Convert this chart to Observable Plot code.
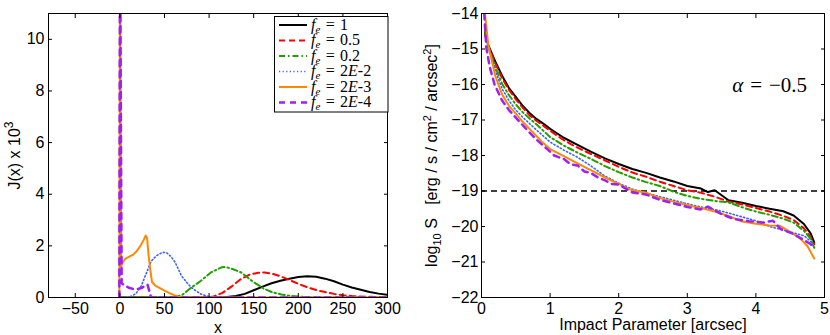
<!DOCTYPE html>
<html>
<head>
<meta charset="utf-8">
<script src="https://cdn.jsdelivr.net/npm/d3@7"></script>
<script src="https://cdn.jsdelivr.net/npm/@observablehq/plot@0.6"></script>
<style>
  html, body { margin: 0; padding: 0; background: #fff; }
  #wrap { position: relative; width: 830px; height: 335px; display: flex; font-family: "Liberation Sans", Arial, sans-serif; }
  #wrap svg { overflow: visible; }
  #legend { position: absolute; left: 0; top: 0; pointer-events: none; }
</style>
</head>
<body>
<div id="wrap"></div>
<script>
// ---------- series metadata ----------
const seriesValues = ["1", "0.5", "0.2", "2E-2", "2E-3", "2E-4"];
const seriesColors = ["#000000", "#ff0000", "#22a000", "#3a5fff", "#ff8800", "#a020f0"];
const seriesDash = [null, "6,4", "6,3,1.5,3", "1.2,2.4", null, "6,5"];
const seriesWidth = [2, 2, 2, 1.6, 2, 2.5];

// ---------- left panel: J(x) x 10^3 vs x ----------
const jXTicks = [-50, 0, 50, 100, 150, 200, 250, 300];
const jYTicks = [0, 2, 4, 6, 8, 10];

const jBlackX = [0, 110, 120, 130, 140, 150, 160, 170, 180, 190, 200, 210, 220, 230, 240, 250, 260, 270, 280, 290, 300];
const jBlackY = [0, 0, 0.02, 0.06, 0.14, 0.28, 0.42, 0.55, 0.65, 0.73, 0.79, 0.82, 0.8, 0.73, 0.63, 0.5, 0.39, 0.3, 0.21, 0.15, 0.1];

const jRedX = [0, 95, 105, 115, 125, 135, 145, 155, 162, 170, 180, 190, 200, 210, 220, 230, 240, 250, 260, 275, 300];
const jRedY = [0, 0, 0.04, 0.18, 0.42, 0.7, 0.88, 0.96, 0.97, 0.93, 0.82, 0.68, 0.53, 0.4, 0.29, 0.21, 0.14, 0.09, 0.06, 0.03, 0.01];

const jGreenX = [0, 60, 70, 78, 91, 102, 114, 119, 125, 136, 145, 152, 162, 171, 181, 190, 200, 215, 230, 300];
const jGreenY = [0, 0, 0.1, 0.33, 0.65, 0.97, 1.17, 1.18, 1.12, 0.97, 0.72, 0.55, 0.33, 0.2, 0.12, 0.07, 0.04, 0.01, 0, 0];

const jBlueX = [0, 10, 18, 24, 30, 35, 41, 48, 52, 57, 62, 69, 75, 80, 86, 91, 97, 102, 110, 300];
const jBlueY = [0, 0, 0.15, 0.45, 0.97, 1.4, 1.62, 1.75, 1.74, 1.6, 1.36, 0.84, 0.58, 0.39, 0.24, 0.13, 0.06, 0.02, 0, 0];

const jOrangeX = [-0.6, 0, 0.6, 1.5, 3, 6, 10, 15, 19, 23, 27, 29, 30.5, 32, 34, 36, 40, 45, 50, 55, 60, 65, 70, 80, 300];
const jOrangeY = [0, 11, 11, 1.2, 1.35, 1.5, 1.57, 1.66, 1.8, 2.0, 2.25, 2.4, 2.3, 1.7, 1.1, 0.6, 0.45, 0.36, 0.27, 0.18, 0.1, 0.04, 0.01, 0, 0];

const jPurpleX = [-0.6, 0, 0.6, 2, 5, 10, 15, 20, 25, 29, 31, 33, 35, 300];
const jPurpleY = [0, 11, 11, 0.55, 0.48, 0.38, 0.33, 0.33, 0.38, 0.48, 0.5, 0.25, 0, 0];

// ---------- right panel: log10 S vs impact parameter ----------
const sXTicks = [0, 1, 2, 3, 4, 5];
const sYTicks = [-22, -21, -20, -19, -18, -17, -16, -15, -14];
const sThreshold = [-19];
const alphaLabel = ["α = −0.5"];
const alphaX = [4.2];
const alphaY = [-16.03];

const sBlackX = [0.05, 0.1, 0.2, 0.3, 0.4, 0.5, 0.6, 0.7, 0.8, 0.9, 1.0, 1.2, 1.4, 1.6, 1.8, 2.0, 2.2, 2.4, 2.6, 2.8, 3.0, 3.2, 3.3, 3.4, 3.6, 3.8, 4.0, 4.2, 4.4, 4.55, 4.7, 4.8, 4.85];
const sBlackY = [-14.55, -14.9, -15.35, -15.75, -16.1, -16.35, -16.6, -16.8, -16.97, -17.1, -17.25, -17.5, -17.7, -17.9, -18.08, -18.24, -18.38, -18.49, -18.62, -18.73, -18.86, -18.93, -19.03, -18.98, -19.26, -19.33, -19.42, -19.5, -19.57, -19.69, -19.93, -20.2, -20.45];

const sRedX = [0.05, 0.1, 0.2, 0.3, 0.4, 0.5, 0.6, 0.7, 0.8, 0.9, 1.0, 1.2, 1.4, 1.6, 1.8, 2.0, 2.2, 2.4, 2.6, 2.8, 3.0, 3.2, 3.4, 3.6, 3.8, 4.0, 4.2, 4.4, 4.55, 4.7, 4.8, 4.85];
const sRedY = [-14.6, -14.92, -15.4, -15.82, -16.15, -16.42, -16.65, -16.87, -17.02, -17.16, -17.3, -17.57, -17.78, -17.96, -18.14, -18.32, -18.48, -18.6, -18.74, -18.86, -18.98, -19.05, -19.16, -19.3, -19.38, -19.48, -19.58, -19.7, -19.82, -20.05, -20.3, -20.5];

const sGreenX = [0.05, 0.1, 0.2, 0.3, 0.4, 0.5, 0.6, 0.7, 0.8, 0.9, 1.0, 1.2, 1.4, 1.6, 1.8, 2.0, 2.2, 2.4, 2.6, 2.8, 3.0, 3.2, 3.4, 3.6, 3.8, 4.0, 4.2, 4.4, 4.55, 4.7, 4.8, 4.85];
const sGreenY = [-14.5, -14.95, -15.5, -15.98, -16.3, -16.56, -16.78, -16.96, -17.12, -17.3, -17.48, -17.72, -17.92, -18.1, -18.3, -18.47, -18.62, -18.75, -18.86, -19.02, -19.14, -19.22, -19.28, -19.32, -19.46, -19.58, -19.67, -19.78, -19.89, -20.12, -20.35, -20.6];

const sBlueX = [0.05, 0.1, 0.2, 0.3, 0.4, 0.5, 0.6, 0.7, 0.8, 0.9, 1.0, 1.2, 1.4, 1.6, 1.8, 2.0, 2.2, 2.4, 2.6, 2.8, 3.0, 3.2, 3.4, 3.6, 3.8, 4.0, 4.2, 4.4, 4.55, 4.7, 4.8, 4.85];
const sBlueY = [-14.4, -14.95, -15.6, -16.12, -16.45, -16.72, -16.92, -17.1, -17.28, -17.45, -17.62, -17.85, -18.05, -18.3, -18.58, -18.78, -18.95, -19.06, -19.16, -19.26, -19.36, -19.45, -19.52, -19.62, -19.73, -19.84, -20.0, -20.1, -20.18, -20.26, -20.42, -20.58];

const sOrangeX = [0.05, 0.1, 0.2, 0.3, 0.4, 0.5, 0.6, 0.7, 0.8, 0.9, 1.0, 1.2, 1.4, 1.6, 1.8, 2.0, 2.2, 2.4, 2.6, 2.8, 3.0, 3.2, 3.4, 3.6, 3.8, 4.0, 4.2, 4.35, 4.5, 4.65, 4.75, 4.85];
const sOrangeY = [-14.0, -14.9, -15.75, -16.28, -16.6, -16.82, -17.05, -17.25, -17.45, -17.65, -17.82, -18.02, -18.22, -18.42, -18.62, -18.8, -18.98, -19.05, -19.2, -19.3, -19.4, -19.48, -19.58, -19.7, -19.86, -19.92, -19.97, -19.98, -20.15, -20.35, -20.55, -20.9];

const sPurpleX = [0.04, 0.07, 0.12, 0.19, 0.3, 0.4, 0.54, 0.7, 0.8, 0.9, 1.06, 1.2, 1.3, 1.4, 1.5, 1.6, 1.7, 1.8, 1.9, 2.0, 2.2, 2.4, 2.6, 2.8, 3.0, 3.19, 3.3, 3.5, 3.68, 3.9, 4.1, 4.25, 4.36, 4.55, 4.7, 4.8, 4.85];
const sPurpleY = [-14.0, -14.96, -15.5, -16.0, -16.45, -16.72, -17.02, -17.35, -17.55, -17.72, -18.0, -18.1, -18.25, -18.28, -18.45, -18.5, -18.62, -18.7, -18.8, -18.82, -19.04, -19.1, -19.25, -19.35, -19.45, -19.52, -19.44, -19.65, -19.79, -19.85, -19.89, -19.84, -20.07, -20.21, -20.38, -20.5, -20.62];

// ---------- helpers ----------
function zip(xs, ys) { return xs.map((x, k) => ({x, y: ys[k]})); }
function seriesLine(xs, ys, i) {
  const opts = {x: "x", y: "y", stroke: seriesColors[i], strokeWidth: seriesWidth[i], clip: true, curve: "linear"};
  if (seriesDash[i]) opts.strokeDasharray = seriesDash[i];
  return Plot.line(zip(xs, ys), opts);
}
const plotStyle = {fontFamily: "'Liberation Sans', Arial, sans-serif", fontSize: "16px", color: "#000", background: "#fff", overflow: "visible"};

const jSeries = [[jBlackX, jBlackY], [jRedX, jRedY], [jGreenX, jGreenY], [jBlueX, jBlueY], [jOrangeX, jOrangeY], [jPurpleX, jPurpleY]];
const sSeries = [[sBlackX, sBlackY], [sRedX, sRedY], [sGreenX, sGreenY], [sBlueX, sBlueY], [sOrangeX, sOrangeY], [sPurpleX, sPurpleY]];

const jYLabel = "J(x) x 10³";
const sYLabel = "log₁₀ S\u00a0\u00a0[erg / s / cm² / arcsec²]";

const left = Plot.plot({
  width: 415, height: 335,
  marginLeft: 48, marginRight: 28, marginTop: 13, marginBottom: 38,
  style: plotStyle,
  x: {domain: [-80, 300]},
  y: {domain: [0, 11]},
  marks: [
    ...jSeries.map(([xs, ys], i) => seriesLine(xs, ys, i)),
    Plot.frame({stroke: "#000", strokeWidth: 1}),
    Plot.axisX(jXTicks, {anchor: "bottom", tickSize: -4, tickPadding: 9, label: "x", labelAnchor: "center", labelOffset: 35, labelArrow: "none"}),
    Plot.axisX(jXTicks, {anchor: "top", tickSize: -4, tickFormat: () => "", label: null}),
    Plot.axisY(jYTicks, {anchor: "left", tickSize: -4, tickPadding: 8, label: jYLabel, labelAnchor: "center", labelOffset: 40, labelArrow: "none"}),
    Plot.axisY(jYTicks, {anchor: "right", tickSize: -4, tickFormat: () => "", label: null})
  ]
});

const right = Plot.plot({
  width: 415, height: 335,
  marginLeft: 66, marginRight: 6, marginTop: 13, marginBottom: 38,
  style: plotStyle,
  x: {domain: [0, 5]},
  y: {domain: [-22, -14]},
  marks: [
    Plot.ruleY(sThreshold, {stroke: "#000", strokeWidth: 1.5, strokeDasharray: "6,4"}),
    ...sSeries.map(([xs, ys], i) => seriesLine(xs, ys, i)),
    Plot.text(alphaLabel, {x: (d, k) => alphaX[k], y: (d, k) => alphaY[k], text: d => d, fontFamily: "'Liberation Serif', 'Times New Roman', serif", fontSize: 21, fill: "#000", textAnchor: "middle"}),
    Plot.frame({stroke: "#000", strokeWidth: 1}),
    Plot.axisX(sXTicks, {anchor: "bottom", tickSize: -4, tickPadding: 9, label: "Impact Parameter [arcsec]", labelAnchor: "center", labelOffset: 32, labelArrow: "none"}),
    Plot.axisX(sXTicks, {anchor: "top", tickSize: -4, tickFormat: () => "", label: null}),
    Plot.axisY(sYTicks, {anchor: "left", tickSize: -4, tickPadding: 7, label: sYLabel, labelAnchor: "center", labelOffset: 56, labelArrow: "none"}),
    Plot.axisY(sYTicks, {anchor: "right", tickSize: -4, tickFormat: () => "", label: null})
  ]
});

// typeset sub/superscripts and italic math in the label texts
function rebuild(svg, match, parts) {
  d3.select(svg).selectAll("text").each(function() {
    const t = d3.select(this);
    if (t.text() !== match) return;
    t.text(null);
    parts.forEach(([s, opt]) => {
      const sp = t.append("tspan").text(s);
      if (opt) Object.entries(opt).forEach(([k, v]) => sp.attr(k, v));
    });
  });
}
rebuild(right, alphaLabel[0], [["α", {"font-style": "italic"}], ["\u2004=\u2004−0.5"]]);
rebuild(right, sYLabel, [
  ["log"], ["10", {"font-size": 11, dy: 4}], ["\u00a0S\u00a0\u00a0\u00a0[erg / s / cm", {dy: -4}],
  ["2", {"font-size": 11, dy: -6}], [" / arcsec", {dy: 6}], ["2", {"font-size": 11, dy: -6}], ["]", {dy: 6}]
]);
rebuild(left, jYLabel, [["J(x) x 10"], ["3", {"font-size": 12, dy: -7}]]);

const wrap = document.getElementById("wrap");
wrap.appendChild(left);
wrap.appendChild(right);

// legend (left panel), placed in the upper right corner of the left frame
const legendBox = {x: 274, y: 16, w: 113.5, h: 95.5, rowH: 15.5};
const lg = d3.select(wrap).append("svg").attr("id", "legend")
  .attr("width", 830).attr("height", 335);
lg.append("rect")
  .attr("x", legendBox.x + 0.5).attr("y", legendBox.y + 0.5)
  .attr("width", legendBox.w).attr("height", legendBox.h)
  .attr("fill", "#fff").attr("stroke", "#000").attr("stroke-width", 1);
seriesValues.forEach((v, i) => {
  const cy = legendBox.y + 9 + i * legendBox.rowH;
  const ln = lg.append("line")
    .attr("x1", legendBox.x + 5).attr("x2", legendBox.x + 33)
    .attr("y1", cy).attr("y2", cy)
    .attr("stroke", seriesColors[i]).attr("stroke-width", seriesWidth[i]);
  if (seriesDash[i]) ln.attr("stroke-dasharray", seriesDash[i]);
  const t = lg.append("text")
    .attr("x", legendBox.x + 37).attr("y", cy + 4.5)
    .attr("font-family", "'Liberation Serif', 'Times New Roman', serif")
    .attr("font-size", 16).attr("fill", "#000");
  t.append("tspan").attr("font-style", "italic").text("f");
  t.append("tspan").attr("font-style", "italic").attr("font-size", 11).attr("dy", 3).text("e");
  t.append("tspan").attr("dy", -3).text("\u2004=\u2004");
  v.split(/(E|-)/).forEach(part => {
    if (!part) return;
    const sp = t.append("tspan").text(part === "-" ? "-" : part);
    if (part === "E") sp.attr("font-style", "italic");
  });
});
</script>
</body>
</html>
